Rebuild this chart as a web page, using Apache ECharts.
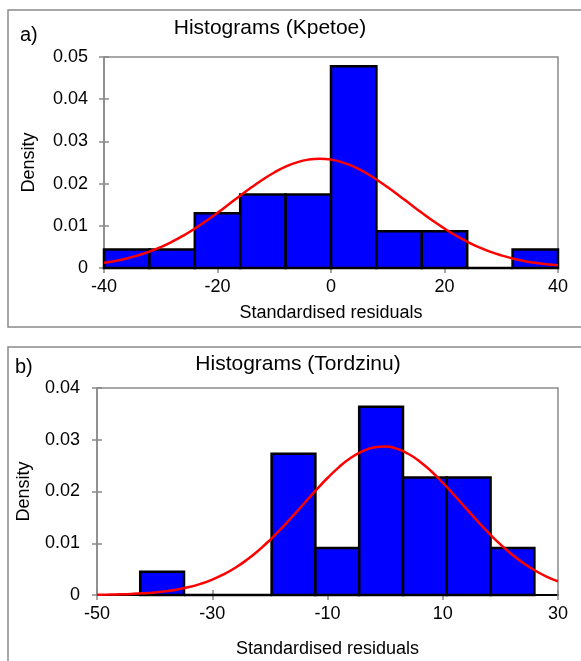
<!DOCTYPE html>
<html>
<head>
<meta charset="utf-8">
<script src="https://cdn.jsdelivr.net/npm/echarts@6/dist/echarts.min.js"></script>
<style>
html,body{margin:0;padding:0;background:#fff;}
#chart{width:581px;height:661px;}
</style>
</head>
<body>
<div id="chart"></div>
<script>
// ---- Panel a (Kpetoe) ----
var titleA = 'Histograms (Kpetoe)';
var edgesA = [-40, -32, -24, -16, -8, 0, 8, 16, 24, 32, 40];
var densA = [0.0044, 0.0044, 0.0130, 0.0174, 0.0174, 0.0478, 0.0087, 0.0087, 0, 0.0044];
var curveXA = [-40,-38,-36,-34,-32,-30,-28,-26,-24,-22,-20,-18,-16,-14,-12,-10,-8,-6,-4,-2,0,2,4,6,8,10,12,14,16,18,20,22,24,26,28,30,32,34,36,38,40];
var curveYA = [0.00123,0.00168,0.00226,0.00299,0.00388,0.00496,0.00623,0.00769,0.00934,0.01115,0.01308,0.0151,0.01714,0.01912,0.02098,0.02263,0.02401,0.02504,0.02568,0.0259,0.02568,0.02504,0.02401,0.02263,0.02098,0.01912,0.01714,0.0151,0.01308,0.01115,0.00934,0.00769,0.00623,0.00496,0.00388,0.00299,0.00226,0.00168,0.00123,0.00089,0.00063];
var xTicksA = {min: -40, max: 40, interval: 20};
var yTicksA = {min: 0, max: 0.05, interval: 0.01};

// ---- Panel b (Tordzinu) ----
var titleB = 'Histograms (Tordzinu)';
var edgesB = [-42.5, -34.9, -27.3, -19.7, -12.1, -4.5, 3.1, 10.7, 18.3, 25.9];
var densB = [0.0045, 0, 0, 0.0273, 0.0091, 0.0364, 0.0227, 0.0227, 0.0091];
var curveXB = [-50,-48,-46,-44,-42,-40,-38,-36,-34,-32,-30,-28,-26,-24,-22,-20,-18,-16,-14,-12,-10,-8,-6,-4,-2,0,2,4,6,8,10,12,14,16,18,20,22,24,26,28,30];
var curveYB = [0.00005,0.00008,0.00013,0.00021,0.00033,0.0005,0.00074,0.00108,0.00154,0.00217,0.00297,0.004,0.00526,0.00679,0.00858,0.01062,0.01287,0.01529,0.01778,0.02026,0.02261,0.02472,0.02646,0.02775,0.02851,0.02869,0.02828,0.0273,0.02581,0.02391,0.02169,0.01928,0.01678,0.01431,0.01195,0.00978,0.00783,0.00615,0.00473,0.00356,0.00263];
var xTicksB = {min: -50, max: 30, interval: 20};
var yTicksB = {min: 0, max: 0.04, interval: 0.01};

var xName = 'Standardised residuals';
var yName = 'Density';

var FONT = '"Liberation Sans", Arial, sans-serif';
var GRAY = '#8a8a8a';

function binData(edges, dens) {
  var out = [];
  for (var i = 0; i < dens.length; i++) out.push([edges[i], edges[i + 1], dens[i]]);
  return out;
}
function pairs(xs, ys) {
  return xs.map(function (x, i) { return [x, ys[i]]; });
}
function renderBin(params, api) {
  var p0 = api.coord([api.value(0), 0]);
  var p1 = api.coord([api.value(1), api.value(2)]);
  return {
    type: 'rect',
    shape: {x: p0[0], y: p1[1], width: p1[0] - p0[0], height: p0[1] - p1[1]},
    style: {fill: '#0000ff', stroke: '#000000', lineWidth: 2.5}
  };
}

function mainX(gi, t, gap) {
  return {
    type: 'value', gridIndex: gi, min: t.min, max: t.max, interval: t.interval,
    position: 'bottom',
    axisLine: {show: true, onZero: false, lineStyle: {color: '#000', width: 2}},
    axisTick: {show: true, length: 5, lineStyle: {color: GRAY, width: 1.5}},
    axisLabel: {color: '#000', fontFamily: FONT, fontSize: 18, margin: 10},
    splitLine: {show: false},
    name: xName, nameLocation: 'middle', nameGap: gap,
    nameTextStyle: {color: '#000', fontFamily: FONT, fontSize: 18}
  };
}
function innerX(gi, t) {
  return {
    type: 'value', gridIndex: gi, min: t.min, max: t.max, interval: t.interval,
    position: 'bottom',
    axisLine: {show: false, onZero: false},
    axisTick: {show: true, inside: true, length: 5, lineStyle: {color: GRAY, width: 1.5}},
    axisLabel: {show: false}, splitLine: {show: false}
  };
}
function mainY(gi, t, gap, margin) {
  return {
    type: 'value', gridIndex: gi, min: t.min, max: t.max, interval: t.interval,
    position: 'left',
    axisLine: {show: true, onZero: false, lineStyle: {color: GRAY, width: 1.5}},
    axisTick: {show: true, length: 5, lineStyle: {color: GRAY, width: 1.5}},
    axisLabel: {color: '#000', fontFamily: FONT, fontSize: 18, margin: margin},
    splitLine: {show: false},
    name: yName, nameLocation: 'middle', nameGap: gap, nameRotate: 90,
    nameTextStyle: {color: '#000', fontFamily: FONT, fontSize: 18}
  };
}
function innerY(gi, t) {
  return {
    type: 'value', gridIndex: gi, min: t.min, max: t.max, interval: t.interval,
    position: 'left',
    axisLine: {show: false, onZero: false},
    axisTick: {show: true, inside: true, length: 5, lineStyle: {color: GRAY, width: 1.5}},
    axisLabel: {show: false}, splitLine: {show: false}
  };
}

var chart = echarts.init(document.getElementById('chart'), null, {renderer: 'canvas'});
chart.setOption({
  animation: false,
  backgroundColor: '#ffffff',
  graphic: [
    {type: 'rect', shape: {x: 8, y: 10, width: 620, height: 317}, style: {fill: 'none', stroke: GRAY, lineWidth: 1.5}, z: -10},
    {type: 'rect', shape: {x: 8, y: 347, width: 620, height: 400}, style: {fill: 'none', stroke: GRAY, lineWidth: 1.5}, z: -10},
    {type: 'text', x: 270, y: 28, style: {text: titleA, fill: '#000', font: '21px ' + FONT, textAlign: 'center', textVerticalAlign: 'middle'}},
    {type: 'text', x: 298, y: 364, style: {text: titleB, fill: '#000', font: '21px ' + FONT, textAlign: 'center', textVerticalAlign: 'middle'}},
    {type: 'text', x: 20, y: 35, style: {text: 'a)', fill: '#000', font: '20px ' + FONT, textAlign: 'left', textVerticalAlign: 'middle'}},
    {type: 'text', x: 15, y: 367, style: {text: 'b)', fill: '#000', font: '20px ' + FONT, textAlign: 'left', textVerticalAlign: 'middle'}}
  ],
  grid: [
    {left: 104, top: 57, width: 454, height: 211, show: true, borderColor: GRAY, borderWidth: 1.5, backgroundColor: 'transparent'},
    {left: 97, top: 388, width: 461, height: 207, show: true, borderColor: GRAY, borderWidth: 1.5, backgroundColor: 'transparent'}
  ],
  xAxis: [mainX(0, xTicksA, 36), innerX(0, xTicksA), mainX(1, xTicksB, 45), innerX(1, xTicksB)],
  yAxis: [mainY(0, yTicksA, 66, 16), innerY(0, yTicksA), mainY(1, yTicksB, 64, 17), innerY(1, yTicksB)],
  series: [
    {type: 'custom', xAxisIndex: 0, yAxisIndex: 0, renderItem: renderBin, data: binData(edgesA, densA), z: 2},
    {type: 'line', xAxisIndex: 0, yAxisIndex: 0, data: pairs(curveXA, curveYA), smooth: true, showSymbol: false, lineStyle: {color: '#ff0000', width: 2.5}, z: 5},
    {type: 'custom', xAxisIndex: 2, yAxisIndex: 2, renderItem: renderBin, data: binData(edgesB, densB), z: 2},
    {type: 'line', xAxisIndex: 2, yAxisIndex: 2, data: pairs(curveXB, curveYB), smooth: true, showSymbol: false, lineStyle: {color: '#ff0000', width: 2.5}, z: 5}
  ]
});
</script>
</body>
</html>
